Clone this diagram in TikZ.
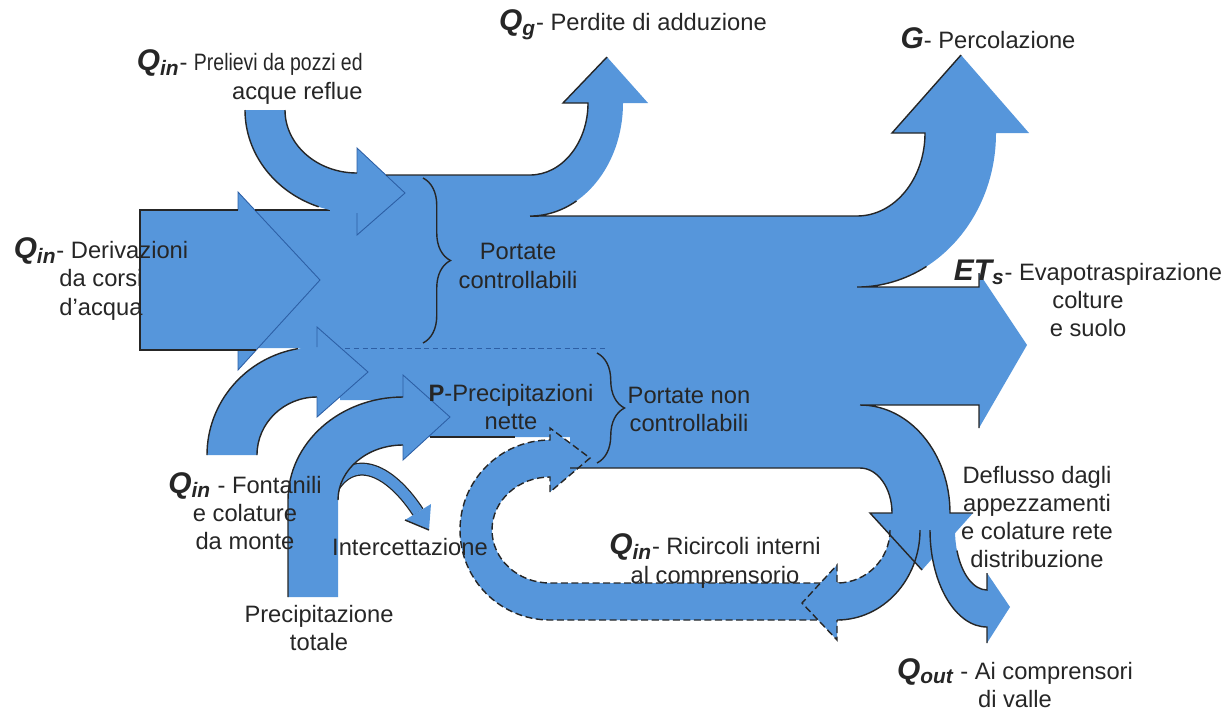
\documentclass[tikz,border=0pt]{standalone}
\usepackage{fontspec}
\setmainfont{Liberation Sans}
\newfontfamily\narrowsans[FakeStretch=0.82]{Liberation Sans}
\usetikzlibrary{decorations.pathreplacing}
\definecolor{flowblue}{RGB}{86,150,219}
\definecolor{flowline}{RGB}{45,95,165}
\tikzset{
  flow/.style={fill=flowblue},
  edge/.style={draw=black!85,line width=0.8pt},
  headline/.style={draw=flowline,line width=0.5pt},
  dashedge/.style={draw=black!85,line width=0.8pt,dash pattern=on 4pt off 2pt},
  lbl/.style={font=\fontsize{13.5}{16}\selectfont,text=black!85,align=center,inner sep=0pt},
  brc/.style={decorate,decoration={brace,amplitude=0.55cm},draw=black!85,line width=0.8pt}
}
\begin{document}
\begin{tikzpicture}[x=0.02cm,y=0.02cm]
\useasboundingbox (0,0) rectangle (1229,-711);
\fill[flow] (238,-210) -- (357,-210) -- (357,-175) -- (530,-175) -- (530,-216) -- (857,-216) -- (857,-287) -- (979,-287) -- (979,-273) -- (1027,-345) -- (979,-428) -- (979,-405) -- (860,-405) -- (860,-468) -- (570,-468) -- (570,-437) -- (403,-437) -- (403,-400) -- (340,-400) -- (340,-348) -- (238,-348) -- cycle;
\fill[flow] (530,-216) arc[start angle=270,end angle=360,x radius=93,y radius=113] -- (648,-103) -- (607,-57) -- (563,-103) -- (588,-103) arc[start angle=0,end angle=-90,x radius=58,y radius=72] -- cycle;
\fill[flow] (857,-287) arc[start angle=270,end angle=360,x radius=139,y radius=154] -- (1029,-133) -- (961,-55) -- (892,-133) -- (925,-133) arc[start angle=0,end angle=-90,x radius=68,y radius=83] -- cycle;
\fill[flow] (860,-405) arc[start angle=90,end angle=0,x radius=90,y radius=108] -- (973,-513) -- (922,-570) -- (870,-513) -- (892,-513) arc[start angle=0,end angle=90,x radius=32,y radius=45] -- cycle;
\fill[flow] (930,-530) arc[start angle=180,end angle=270,x radius=57,y radius=97] -- (987,-643) -- (1010,-607) -- (987,-573) -- (987,-590) arc[start angle=270,end angle=180,x radius=32,y radius=60] -- cycle;
\fill[flow] (842,-583) -- (550,-583) arc[start angle=270,end angle=90,x radius=58,y radius=53] -- (550,-492) -- (590,-458) -- (550,-428) -- (550,-440) arc[start angle=90,end angle=270,x radius=90,y radius=90] -- (842,-620) -- cycle;
\draw[dashedge] (842,-583) -- (550,-583) arc[start angle=270,end angle=90,x radius=58,y radius=53] -- (550,-492) -- (590,-458) -- (550,-428) -- (550,-440) arc[start angle=90,end angle=270,x radius=90,y radius=90] -- (842,-620);
\fill[flow] (890,-530) -- (920,-530) arc[start angle=0,end angle=-90,x radius=83,y radius=90] -- (837,-640) -- (802,-603) -- (837,-565) -- (837,-583) arc[start angle=-90,end angle=0,x radius=53,y radius=53] -- cycle;
\draw[edge] (920,-530) arc[start angle=0,end angle=-90,x radius=83,y radius=90];
\draw[dashedge] (890,-530) arc[start angle=0,end angle=-90,x radius=53,y radius=53] -- (837,-565) -- (802,-603) -- (837,-640) -- (837,-620);
\draw[edge] (930,-530) arc[start angle=180,end angle=270,x radius=57,y radius=97] -- (987,-643);
\draw[edge] (987,-573) -- (987,-590) arc[start angle=270,end angle=200,x radius=32,y radius=60];
\fill[flow] (140,-210) -- (238,-210) -- (238,-192) -- (320,-280) -- (238,-370) -- (238,-350) -- (140,-350) -- cycle;
\draw[headline] (238,-210) -- (238,-192) -- (320,-280) -- (238,-370) -- (238,-350);
\draw[edge] (256,-350) -- (140,-350) -- (140,-210) -- (238,-210);
\draw[edge] (255,-210) -- (330,-210);
\fill[flow] (245,-110) arc[start angle=180,end angle=270,x radius=112,y radius=103] -- (357,-235) -- (405,-193) -- (357,-148) -- (357,-173) arc[start angle=270,end angle=180,x radius=72,y radius=63] -- cycle;
\draw[headline] (357,-173) -- (357,-148) -- (405,-193) -- (357,-235) -- (357,-213);
\draw[edge] (245,-110) arc[start angle=180,end angle=250,x radius=112,y radius=103];
\draw[edge] (285,-110) arc[start angle=180,end angle=270,x radius=72,y radius=63];
\fill[flow] (207,-455) arc[start angle=180,end angle=90,x radius=110,y radius=108] -- (317,-327) -- (368,-372) -- (317,-417) -- (317,-397) arc[start angle=90,end angle=180,x radius=60,y radius=58] -- cycle;
\draw[headline] (317,-347) -- (317,-327) -- (368,-372) -- (317,-417) -- (317,-397);
\draw[edge] (207,-455) arc[start angle=180,end angle=100,x radius=110,y radius=108];
\draw[edge] (257,-455) arc[start angle=180,end angle=90,x radius=60,y radius=58];
\draw[black!85,line width=0.26cm] (326,-502) .. controls (345,-452) and (385,-462) .. (418,-512);
\draw[flowblue,line width=0.21cm] (326,-502) .. controls (345,-452) and (385,-462) .. (418,-512);
\fill[flow] (405,-520) -- (431,-504) -- (429,-530) -- cycle;
\draw[edge] (405,-520) -- (429,-530);
\fill[flow] (288,-597) -- (288,-500) arc[start angle=180,end angle=90,x radius=115,y radius=103] -- (403,-375) -- (450,-417) -- (403,-460) -- (403,-445) arc[start angle=90,end angle=180,x radius=65,y radius=55] -- (338,-597) -- cycle;
\draw[headline] (403,-397) -- (403,-375) -- (450,-417) -- (403,-460) -- (403,-445);
\draw[edge] (288,-597) -- (288,-500) arc[start angle=180,end angle=90,x radius=115,y radius=103];
\draw[edge] (338,-500) arc[start angle=180,end angle=90,x radius=65,y radius=55];
\draw[edge] (386,-175) -- (530,-175) arc[start angle=-90,end angle=0,x radius=58,y radius=72] -- (563,-103) -- (607,-57);
\draw[edge] (576.5,-200.9) arc[start angle=300,end angle=270,x radius=93,y radius=113] -- (857,-216) arc[start angle=-90,end angle=0,x radius=68,y radius=83] -- (892,-133) -- (961,-55);
\draw[edge] (926.5,-266.4) arc[start angle=-60,end angle=-90,x radius=139,y radius=154] -- (979,-287) -- (979,-273);
\draw[edge] (979,-428) -- (979,-405) -- (860,-405) arc[start angle=90,end angle=0,x radius=90,y radius=108] -- (973,-513);
\draw[edge] (922,-570) -- (870,-513) -- (892,-513) arc[start angle=0,end angle=90,x radius=32,y radius=45] -- (570,-468);
\draw[edge] (430,-437) -- (515,-437);
\draw[headline,dash pattern=on 3pt off 2pt] (345,-348) -- (605,-348);
\draw[brc] (423,-178) -- (423,-343);
\draw[brc] (597,-353) -- (597,-463);
\node[lbl,anchor=east,align=right] (prelievi) at (363,-77) {\textbf{\textit{\fontsize{17}{16}\selectfont Q\textsubscript{in}}}- {\narrowsans\fontsize{13.5}{16}\selectfont Prelievi da pozzi ed}\\acque reflue};
\node[lbl] (perdite) at (633,-25) {\textbf{\textit{\fontsize{17}{16}\selectfont Q\textsubscript{g}}}- Perdite di adduzione};
\node[lbl] (percol) at (988,-38) {\textbf{\textit{\fontsize{17}{16}\selectfont G}}- Percolazione};
\node[lbl] (evapo) at (1088,-298) {\textbf{\textit{\fontsize{17}{16}\selectfont ET\textsubscript{s}}}- Evapotraspirazione\\colture\\e suolo};
\node[lbl] (deriv) at (101,-279) {\textbf{\textit{\fontsize{17}{16}\selectfont Q\textsubscript{in}}}- Derivazioni\\da corsi\\d'acqua};
\node[lbl] (portc) at (518,-266) {Portate\\controllabili};
\node[lbl] (portnc) at (689,-409) {Portate non\\controllabili};
\node[lbl] (pnette) at (511,-407) {\textbf{P}-Precipitazioni\\nette};
\node[lbl] (fontan) at (245,-511) {\textbf{\textit{\fontsize{17}{16}\selectfont Q\textsubscript{in}}} - Fontanili\\e colature\\da monte};
\node[lbl] (interc) at (410,-547) {Intercettazione};
\node[lbl] (precip) at (319,-628) {Precipitazione\\totale};
\node[lbl] (ricirc) at (715,-561) {\textbf{\textit{\fontsize{17}{16}\selectfont Q\textsubscript{in}}}- Ricircoli interni\\al comprensorio};
\node[lbl] (deflusso) at (1037,-517) {Deflusso dagli\\appezzamenti\\e colature rete\\distribuzione};
\node[lbl] (qout) at (1015,-683) {\textbf{\textit{\fontsize{17}{16}\selectfont Q\textsubscript{out}}} - Ai comprensori\\di valle};
\end{tikzpicture}
\end{document}
